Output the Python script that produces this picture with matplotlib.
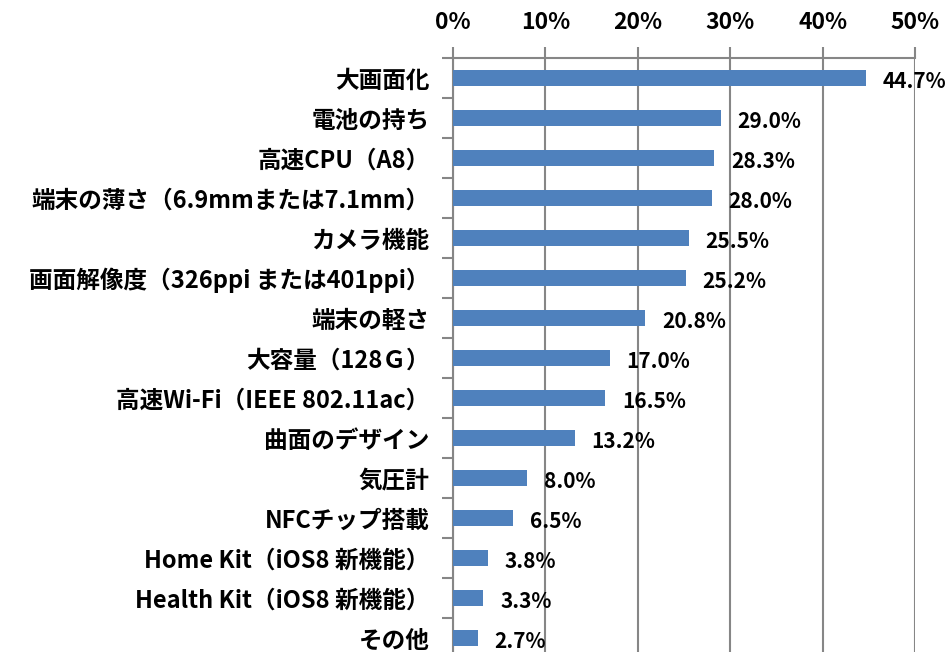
import matplotlib.pyplot as plt
from matplotlib.ticker import FixedLocator, PercentFormatter

plt.rcParams["font.family"] = ["Noto Sans CJK JP", "DejaVu Sans"]

labels = [
    "大画面化",
    "電池の持ち",
    "高速CPU（A8）",
    "端末の薄さ（6.9mmまたは7.1mm）",
    "カメラ機能",
    "画面解像度（326ppi または401ppi）",
    "端末の軽さ",
    "大容量（128Ｇ）",
    "高速Wi-Fi（IEEE 802.11ac）",
    "曲面のデザイン",
    "気圧計",
    "NFCチップ搭載",
    "Home Kit（iOS8 新機能）",
    "Health Kit（iOS8 新機能）",
    "その他",
]
values = [44.7, 29.0, 28.3, 28.0, 25.5, 25.2, 20.8, 17.0, 16.5, 13.2, 8.0, 6.5, 3.8, 3.3, 2.7]
xticks = [0, 10, 20, 30, 40, 50]

grey = "#868686"
blue = "#4F81BD"

fig = plt.figure(figsize=(9.5, 6.52), dpi=100)
ax = fig.add_axes((453 / 950, -6 / 652, 462 / 950, 600 / 652))

ypos = list(range(len(labels)))
ax.barh(ypos, values, height=0.4, color=blue, zorder=3)
ax.set_ylim(len(labels) - 0.5, -0.5)
ax.set_xlim(0, 50)

for y, v in zip(ypos, values):
    ax.text(v + 1.8, y + 0.1, f"{v:.1f}%", va="center", ha="left",
            fontsize=15, fontweight="bold", color="black")

ax.xaxis.tick_top()
ax.set_xticks(xticks)
ax.xaxis.set_major_formatter(PercentFormatter(decimals=0))
ax.tick_params(axis="x", length=8, width=1.5, color=grey, pad=9,
               labelsize=16.5, labelcolor="black")
for t in ax.get_xticklabels():
    t.set_fontweight("bold")
ax.grid(axis="x", color=grey, linewidth=1.5, zorder=0)

ax.set_yticks(ypos)
ax.set_yticklabels(labels, fontsize=17, fontweight="bold")
ax.tick_params(axis="y", which="major", length=0, pad=17)
ax.yaxis.set_minor_locator(FixedLocator([i - 0.5 for i in range(len(labels) + 1)]))
ax.tick_params(axis="y", which="minor", length=8, width=1.5, color=grey)

for side in ["right", "bottom"]:
    ax.spines[side].set_visible(False)
for side in ["left", "top"]:
    ax.spines[side].set_color(grey)
    ax.spines[side].set_linewidth(1.5)

fig.savefig("out.png", dpi=100)
